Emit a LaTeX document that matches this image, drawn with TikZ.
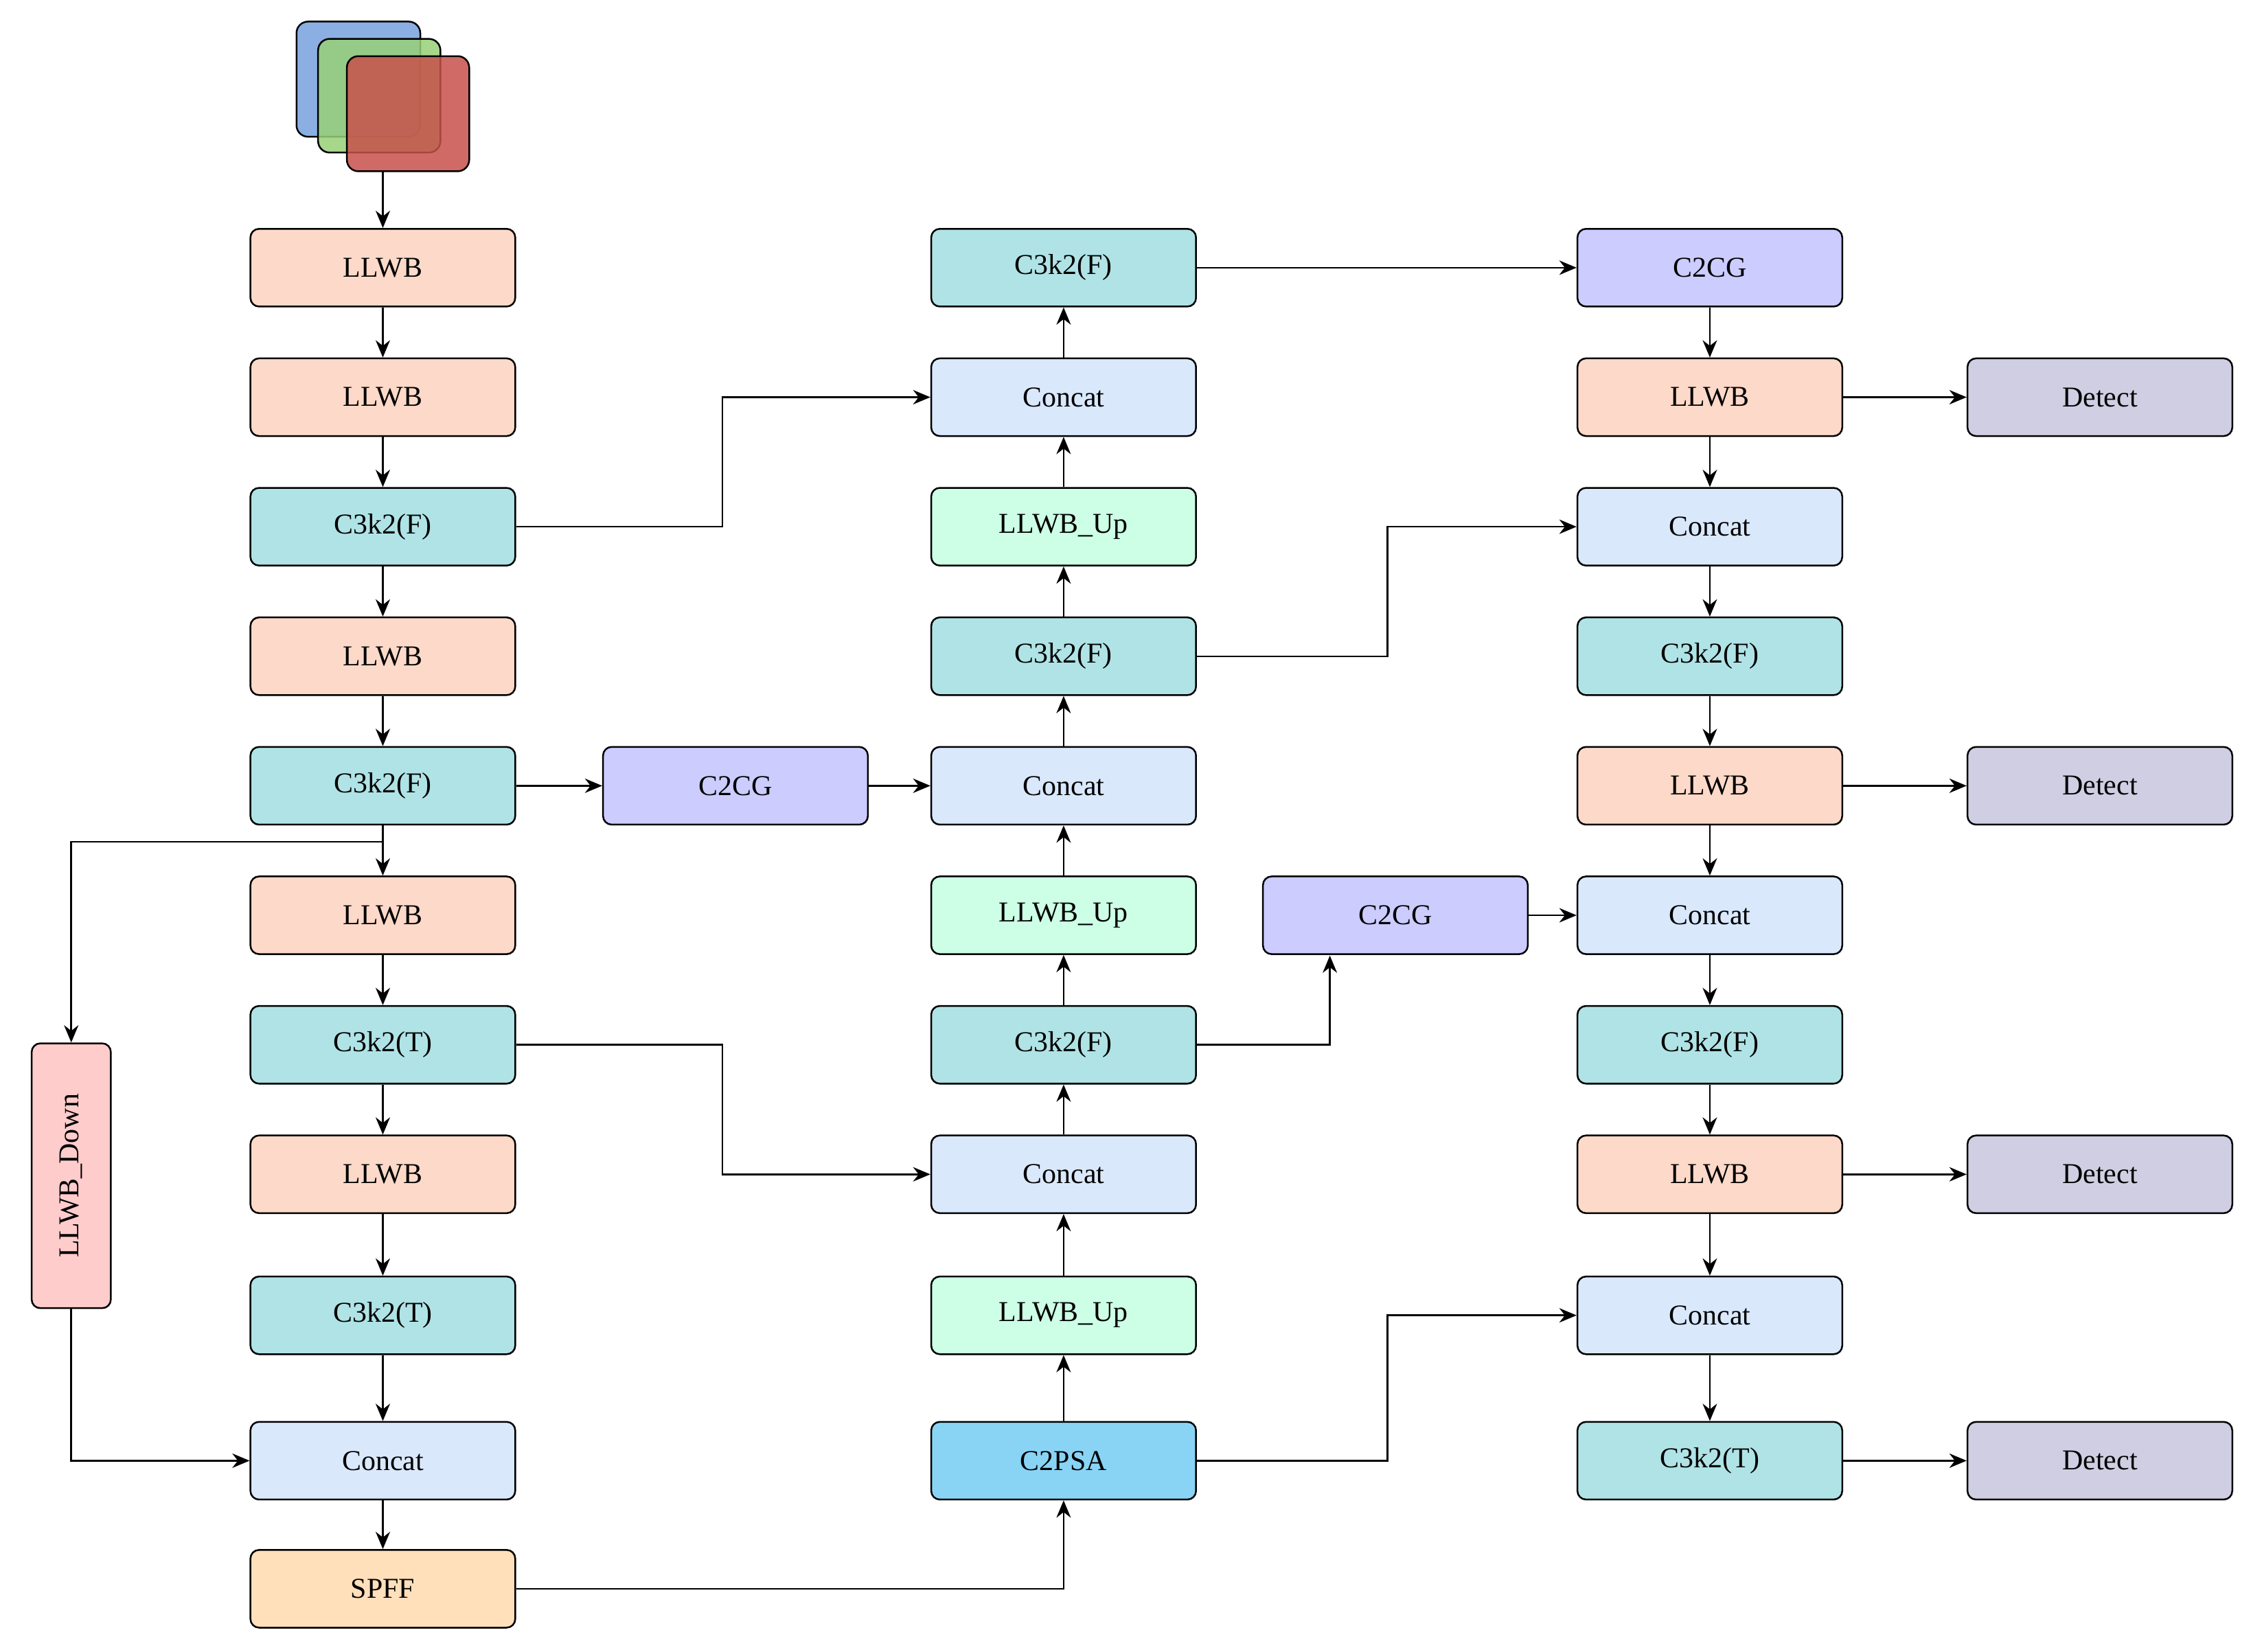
\documentclass[tikz,border=0pt]{standalone}
\usepackage{fontspec}
\setmainfont{Liberation Serif}
\usetikzlibrary{arrows.meta}
\begin{document}
\begin{tikzpicture}[x=0.5pt,y=-0.5pt,
 b/.style={draw,rounded corners=3pt,line width=0.6pt,minimum width=92pt,minimum height=27pt,font=\fontsize{10}{12}\selectfont,inner sep=0pt},
 llwb/.style={b,fill=llwbc}, c3/.style={b,fill=c3c}, cc/.style={b,fill=ccc},
 cg/.style={b,fill=cgc}, up/.style={b,fill=upc}, det/.style={b,fill=detc},
 a/.style={-{Stealth[length=6pt,width=5pt]},line width=0.6pt}]
\definecolor{llwbc}{HTML}{FCD9C8}\definecolor{c3c}{HTML}{B0E3E6}\definecolor{ccc}{HTML}{DAE8FC}
\definecolor{cgc}{HTML}{CCCCFF}\definecolor{upc}{HTML}{CCFFE6}\definecolor{detc}{HTML}{D0CEE2}
\useasboundingbox (0,0) rectangle (1564,1147.5);
% input image
\draw[rounded corners=4pt,fill=blue!45!cyan!60!black!60,fill opacity=0.9,line width=0.6pt,fill={rgb,255:red,126;green,166;blue,224}] (206,15) rectangle (292,95);
\draw[rounded corners=4pt,fill={rgb,255:red,151;green,208;blue,119},fill opacity=0.85,line width=0.6pt] (221,27) rectangle (306,106);
\draw[rounded corners=4pt,fill={rgb,255:red,200;green,80;blue,75},fill opacity=0.85,line width=0.6pt] (241,39) rectangle (326,119);
\coordinate (img) at (266,119);
% left column
\node[llwb] (l1) at (266,186) {LLWB};
\node[llwb] (l2) at (266,276) {LLWB};
\node[c3] (l3) at (266,366) {C3k2(F)};
\node[llwb] (l4) at (266,456) {LLWB};
\node[c3] (l5) at (266,546) {C3k2(F)};
\node[llwb] (l6) at (266,636) {LLWB};
\node[c3] (l7) at (266,726) {C3k2(T)};
\node[llwb] (l8) at (266,816) {LLWB};
\node[c3] (l9) at (266,914) {C3k2(T)};
\node[cc] (l10) at (266,1015) {Concat};
\node[b,fill={rgb,255:red,255;green,224;blue,187}] (l11) at (266,1104) {SPFF};
\node[b,fill={rgb,255:red,255;green,204;blue,204},minimum width=92pt,minimum height=27.5pt,rotate=90] (ld) at (49.5,817) {LLWB\_Down};
\node[cg] (g1) at (511,546) {C2CG};
% middle
\node[c3] (m1) at (739,186) {C3k2(F)};
\node[cc] (m2) at (739,276) {Concat};
\node[up] (m3) at (739,366) {LLWB\_Up};
\node[c3] (m4) at (739,456) {C3k2(F)};
\node[cc] (m5) at (739,546) {Concat};
\node[up] (m6) at (739,636) {LLWB\_Up};
\node[c3] (m7) at (739,726) {C3k2(F)};
\node[cc] (m8) at (739,816) {Concat};
\node[up] (m9) at (739,914) {LLWB\_Up};
\node[b,fill={rgb,255:red,137;green,212;blue,245}] (m10) at (739,1015) {C2PSA};
\node[cg] (g2) at (969.5,636) {C2CG};
% right
\node[cg] (r1) at (1188,186) {C2CG};
\node[llwb] (r2) at (1188,276) {LLWB};
\node[cc] (r3) at (1188,366) {Concat};
\node[c3] (r4) at (1188,456) {C3k2(F)};
\node[llwb] (r5) at (1188,546) {LLWB};
\node[cc] (r6) at (1188,636) {Concat};
\node[c3] (r7) at (1188,726) {C3k2(F)};
\node[llwb] (r8) at (1188,816) {LLWB};
\node[cc] (r9) at (1188,914) {Concat};
\node[c3] (r10) at (1188,1015) {C3k2(T)};
\node[det] (d1) at (1459,276) {Detect};
\node[det] (d2) at (1459,546) {Detect};
\node[det] (d3) at (1459,816) {Detect};
\node[det] (d4) at (1459,1015) {Detect};
% edges
\draw[a] (img) -- (l1);
\foreach \p/\q in {l1/l2,l2/l3,l3/l4,l4/l5,l5/l6,l6/l7,l7/l8,l8/l9,l9/l10,l10/l11,
 m10/m9,m9/m8,m8/m7,m7/m6,m6/m5,m5/m4,m4/m3,m3/m2,m2/m1,
 r1/r2,r2/r3,r3/r4,r4/r5,r5/r6,r6/r7,r7/r8,r8/r9,r9/r10}
 \draw[a] (\p) -- (\q);
\draw[a] (l3.east) -- (502,366) -- (502,276) -- (m2.west);
\draw[a] (l5) -- (g1); \draw[a] (g1) -- (m5);
\draw[a] (266,585) -- (49.5,585) -- (ld.east);
\draw[a] (ld.west) -- (49.5,1015) -- (l10.west);
\draw[a] (l7.east) -- (502,726) -- (502,816) -- (m8.west);
\draw[a] (l11.east) -| (m10.south);
\draw[a] (m1) -- (r1);
\draw[a] (m4.east) -- (964,456) -- (964,366) -- (r3.west);
\draw[a] (m7.east) -| (924,664);
\draw[a] (g2) -- (r6);
\draw[a] (m10.east) -- (964,1015) -- (964,914) -- (r9.west);
\draw[a] (r2) -- (d1); \draw[a] (r5) -- (d2); \draw[a] (r8) -- (d3); \draw[a] (r10) -- (d4);
\end{tikzpicture}
\end{document}
